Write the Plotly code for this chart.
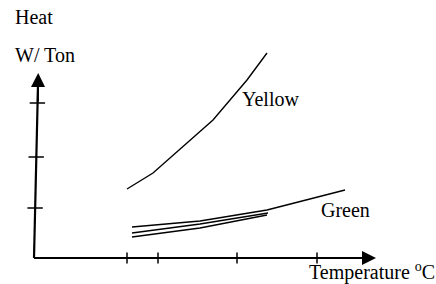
import plotly.graph_objects as go

# Schematic data (arbitrary units; origin at the axes corner)
yellow_x = [9.3, 11.9, 17.9, 21.3, 23.3]
yellow_y = [6.9, 8.5, 13.8, 17.8, 20.5]

green_top_x = [9.8, 16.6, 23.3, 31.1]
green_top_y = [3.1, 3.7, 4.8, 6.8]
green_mid_x = [9.8, 16.6, 23.4]
green_mid_y = [2.5, 3.4, 4.5]
green_low_x = [9.8, 16.6, 23.3]
green_low_y = [2.1, 3.0, 4.3]

x_tick_vals = [9.3, 12.4, 20.3, 28.3]
y_tick_vals = [5.0, 10.1, 15.5]
y_axis_x = [0.0, 0.4]          # slight lean of the hand-drawn y axis
y_axis_y = [0.0, 18.4]
x_axis_end = 34.2
y_axis_top = 18.5

labels = ["Heat", "W/ Ton", "Yellow", "Green", "Temperature <sup>o</sup>C"]
label_x = [-2.1, -2.1, 20.6, 28.5, 27.3]
label_y = [24.1, 20.3, 15.9, 4.8, -1.35]

FONT = "Liberation Serif"
fig = go.Figure()

line = dict(color="black", width=1.4)
for xs, ys in [(yellow_x, yellow_y), (green_top_x, green_top_y),
               (green_mid_x, green_mid_y), (green_low_x, green_low_y)]:
    fig.add_trace(go.Scatter(x=xs, y=ys, mode="lines", line=line,
                             showlegend=False, hoverinfo="skip"))

# axes
fig.add_trace(go.Scatter(x=[0, x_axis_end - 1.2], y=[0, 0], mode="lines",
                         line=dict(color="black", width=2.2), showlegend=False))
fig.add_trace(go.Scatter(x=y_axis_x, y=[0, y_axis_top - 1.2], mode="lines",
                         line=dict(color="black", width=2.2), showlegend=False))

# tick marks crossing the axes
fig.add_trace(go.Scatter(x=x_tick_vals, y=[0] * len(x_tick_vals), mode="markers",
                         marker=dict(symbol="line-ns", size=8,
                                     line=dict(color="black", width=1.5)),
                         showlegend=False))
yt_x = [y_axis_x[0] + (y_axis_x[1] - y_axis_x[0]) * v / y_axis_y[1] for v in y_tick_vals]
fig.add_trace(go.Scatter(x=yt_x, y=y_tick_vals, mode="markers",
                         marker=dict(symbol="line-ew", size=11,
                                     line=dict(color="black", width=1.5)),
                         showlegend=False))

# arrow heads
fig.add_annotation(x=x_axis_end, y=0, ax=x_axis_end - 3, ay=0, axref="x", ayref="y",
                   xref="x", yref="y", text="", showarrow=True, arrowhead=2,
                   arrowsize=1.4, arrowwidth=2, arrowcolor="black")
fig.add_annotation(x=0.42, y=y_axis_top, ax=0.38, ay=y_axis_top - 3, axref="x", ayref="y",
                   xref="x", yref="y", text="", showarrow=True, arrowhead=2,
                   arrowsize=1.4, arrowwidth=2, arrowcolor="black")

for t, lx, ly in zip(labels, label_x, label_y):
    fig.add_annotation(x=lx, y=ly, text=t, showarrow=False, xanchor="left",
                       yanchor="middle", font=dict(family=FONT, size=20, color="black"))

fig.update_layout(width=436, height=284, margin=dict(l=0, r=0, t=0, b=0),
                  paper_bgcolor="white", plot_bgcolor="white",
                  xaxis=dict(range=[-3.4, 40.2], visible=False, fixedrange=True),
                  yaxis=dict(range=[-2.6, 25.8], visible=False, fixedrange=True))

fig.write_html("out.html", config={"displayModeBar": False},
               post_script="document.body.style.margin='0';")
